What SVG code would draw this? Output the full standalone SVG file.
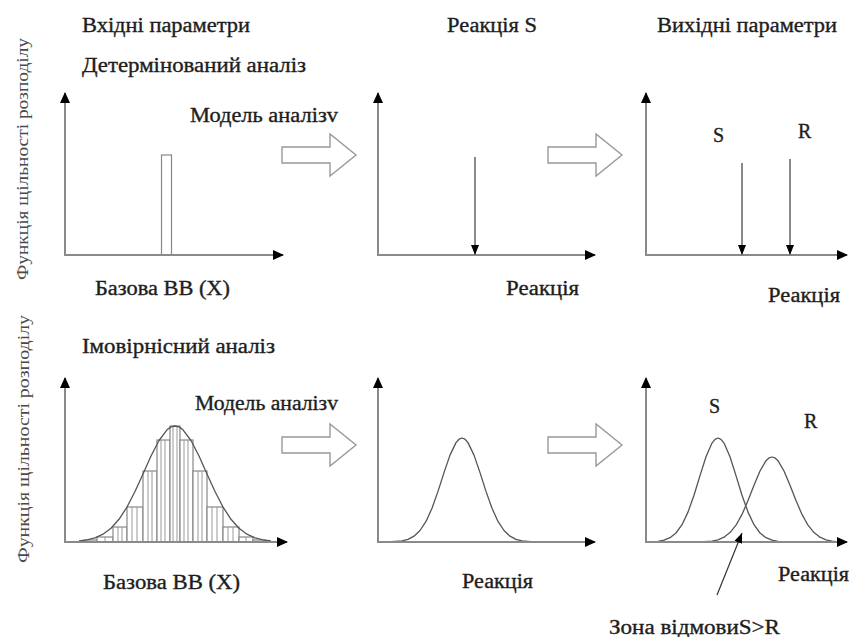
<svg xmlns="http://www.w3.org/2000/svg" width="853" height="637" viewBox="0 0 853 637">
<defs>
<marker id="tri" markerUnits="userSpaceOnUse" markerWidth="11" markerHeight="10" refX="10" refY="5" orient="auto" viewBox="0 0 11 10"><path d="M0,0 L11,5 L0,10 z" fill="#000"/></marker>
<marker id="tris" markerUnits="userSpaceOnUse" markerWidth="10" markerHeight="8" refX="10" refY="4" orient="auto" viewBox="0 0 10 8"><path d="M0,0 L10,4 L0,8 z" fill="#000"/></marker>
<polygon id="blk" points="282,147 330,147 330,134 356,155 330,176 330,163 282,163"/>
</defs>
<style>
text{font-family:"Liberation Serif","DejaVu Serif","Times New Roman",serif}
.t{font-size:20px;fill:#1e1e1e;stroke:#1e1e1e;stroke-width:0.35}
.v{font-size:17px;fill:#4a4a4a}
.ax{stroke:#8a8a8a;stroke-width:2;fill:none;marker-end:url(#tri)}
.dn{stroke:#8a8a8a;stroke-width:2;fill:none;marker-end:url(#tris)}
.cv{stroke:#555;stroke-width:1.3;fill:none;stroke-linejoin:round}
.bar{stroke:#888;stroke-width:1.2;fill:#fff}
.hl{stroke:#999;stroke-width:1}
.ba{fill:#fff;stroke:#999;stroke-width:1.4}
</style>

<g id="labels">
<text class="t" x="82" y="32" textLength="168" lengthAdjust="spacingAndGlyphs">Вхідні параметри</text>
<text class="t" x="82" y="72" textLength="224" lengthAdjust="spacingAndGlyphs">Детермінований аналіз</text>
<text class="t" x="447" y="32" textLength="90" lengthAdjust="spacingAndGlyphs">Реакція S</text>
<text class="t" x="657" y="32" textLength="180" lengthAdjust="spacingAndGlyphs">Вихідні параметри</text>
<text class="v" transform="translate(28,159) rotate(-90)" text-anchor="middle" textLength="242" lengthAdjust="spacingAndGlyphs">Функція щільності розподілу</text>
<text class="v" transform="translate(29,439) rotate(-90)" text-anchor="middle" textLength="248" lengthAdjust="spacingAndGlyphs">Функція щільності розподілу</text>
<text class="t" x="82" y="353" textLength="193" lengthAdjust="spacingAndGlyphs">Імовірнісний аналіз</text>
</g>

<g id="connectors">
<use href="#blk" class="ba"/>
<use href="#blk" class="ba" transform="translate(266,0)"/>
<use href="#blk" class="ba" transform="translate(0,290)"/>
<use href="#blk" class="ba" transform="translate(266,290)"/>
<text class="t" x="190" y="122" textLength="148" lengthAdjust="spacingAndGlyphs">Модель аналізv</text>
<text class="t" x="195" y="410" textLength="143" lengthAdjust="spacingAndGlyphs">Модель аналізv</text>
</g>

<g id="det-input">
<rect class="bar" x="161.5" y="155" width="10" height="100"/>
<path class="ax" d="M65,256 V93"/>
<path class="ax" d="M64,255 H283"/>
<text class="t" x="95" y="295" textLength="135" lengthAdjust="spacingAndGlyphs">Базова ВВ (X)</text>
</g>

<g id="det-response">
<path class="ax" d="M378,256 V93"/>
<path class="ax" d="M377,255 H595"/>
<path class="dn" d="M475,157 V255"/>
<text class="t" x="506" y="295" textLength="73" lengthAdjust="spacingAndGlyphs">Реакція</text>
</g>

<g id="det-output">
<path class="ax" d="M646,256 V93"/>
<path class="ax" d="M645,255 H847"/>
<path class="dn" d="M742,163 V255"/>
<path class="dn" d="M790,159 V255"/>
<text class="t" x="713" y="142">S</text>
<text class="t" x="798" y="138">R</text>
<text class="t" x="768" y="302" textLength="72" lengthAdjust="spacingAndGlyphs">Реакція</text>
</g>

<g id="prob-input">
<g>
<rect class="bar" x="85" y="540" width="12" height="2"/>
<rect class="bar" x="97" y="537" width="16" height="5"/>
<rect class="bar" x="113" y="527" width="14" height="15"/>
<rect class="bar" x="127" y="507" width="16" height="35"/>
<rect class="bar" x="143" y="471" width="14" height="71"/>
<rect class="bar" x="157" y="440" width="13" height="102"/>
<rect class="bar" x="170" y="426" width="10" height="116"/>
<rect class="bar" x="180" y="440" width="13" height="102"/>
<rect class="bar" x="193" y="471" width="14" height="71"/>
<rect class="bar" x="207" y="507" width="16" height="35"/>
<rect class="bar" x="223" y="527" width="16" height="15"/>
<rect class="bar" x="239" y="537" width="14" height="5"/>
<rect class="bar" x="253" y="540" width="12" height="2"/>
</g>
<path class="hl" d="M105,537V542 M118,527V542 M122,527V542 M132,507V542 M137,507V542 M148,471V542 M152,471V542 M161,440V542 M165,440V542 M173,426V542 M177,426V542 M184,440V542 M188,440V542 M198,471V542 M202,471V542 M212,507V542 M217,507V542 M228,527V542 M233,527V542 M246,537V542"/>
<polyline class="cv" points="79,541 87,539.9 95,537.8 103,534.2 111,528.2 119,519.3 127,507 135,491.5 143,473.9 151,456 159,440.5 167,429.8 171,426.9 175,426 179,426.9 183,429.8 191,440.5 199,456 207,473.9 215,491.5 223,507 231,519.3 239,528.2 247,534.2 255,537.8 263,539.9 271,541"/>
<path class="ax" d="M65,543 V378"/>
<path class="ax" d="M64,542 H287"/>
<text class="t" x="103" y="589" textLength="137" lengthAdjust="spacingAndGlyphs">Базова ВВ (X)</text>
</g>

<g id="prob-response">
<polyline class="cv" points="388,541.8 402,540.9 408,539.3 414,536.2 420,530.5 426,521.4 432,508.2 438,491.4 444,472.6 450,455.1 456,442.6 459,439.2 462,438 465,439.2 468,442.6 474,455.1 480,472.6 486,491.4 492,508.2 498,521.4 504,530.5 510,536.2 516,539.3 522,540.9 534,541.8"/>
<path class="ax" d="M378,543 V378"/>
<path class="ax" d="M377,542 H595"/>
<text class="t" x="462" y="588" textLength="71" lengthAdjust="spacingAndGlyphs">Реакція</text>
</g>

<g id="prob-output">
<polyline class="cv" points="648,541.8 658,541.3 664,540.2 670,537.7 676,533 682,524.7 688,512.1 694,495.2 700,475.6 706,456.8 712,443.1 715,439.3 718,438 721,439.3 724,443.1 730,456.8 736,475.6 742,495.2 748,512.1 754,524.7 760,533 766,537.7 772,540.2 778,541.3 790,541.8"/>
<polyline class="cv" points="700,541.8 712,541.1 718,539.8 724,537.2 730,532.6 736,525.2 742,514.4 748,500.6 754,485.3 760,471 766,460.7 769,457.9 772,457 775,457.9 778,460.7 784,471 790,485.3 796,500.6 802,514.4 808,525.2 814,532.6 820,537.2 826,539.8 832,541.1 838,541.8"/>
<path class="ax" d="M646,543 V378"/>
<path class="ax" d="M645,542 H847"/>
<text class="t" x="709" y="413">S</text>
<text class="t" x="804" y="428">R</text>
<text class="t" x="778" y="581" textLength="71" lengthAdjust="spacingAndGlyphs">Реакція</text>
<path class="dn" d="M717,595 L742,533" style="stroke:#333;stroke-width:1.2"/>
<text class="t" x="609" y="634" textLength="171" lengthAdjust="spacingAndGlyphs">Зона відмовиS&gt;R</text>
</g>
</svg>
